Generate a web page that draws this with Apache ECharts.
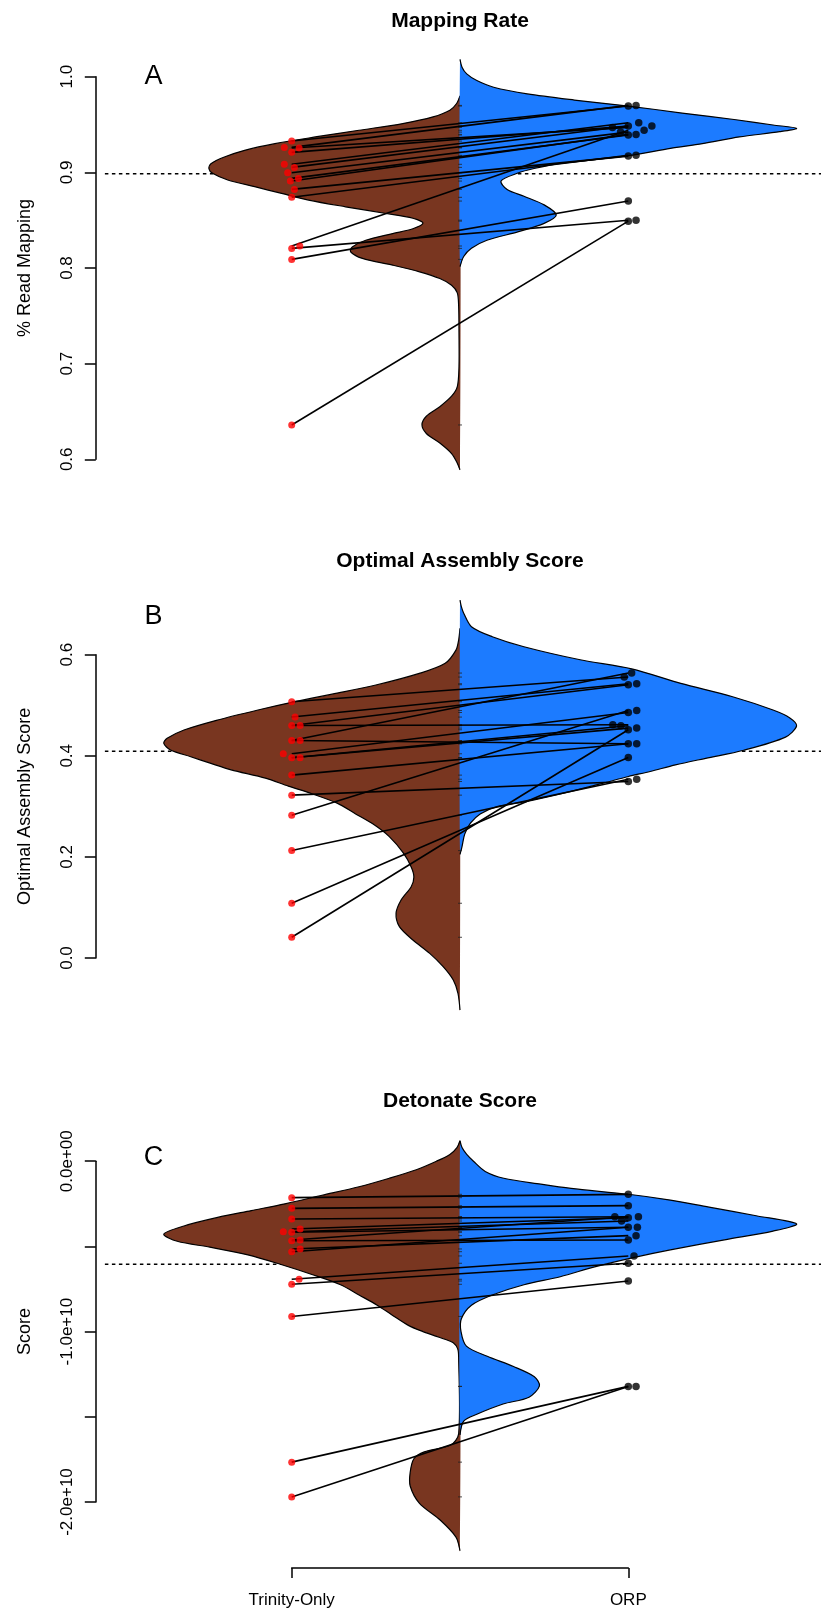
<!DOCTYPE html>
<html>
<head>
<meta charset="utf-8">
<script src="https://cdn.jsdelivr.net/npm/echarts@6/dist/echarts.min.js"></script>
<style>
  html, body { margin: 0; padding: 0; background: #fff; }
  #main { width: 821px; height: 1615px; }
</style>
</head>
<body>
<div id="main"></div>
<script>
var FONT = '"Liberation Sans", Arial, Helvetica, sans-serif';
var BROWN = '#793620';
var BLUE = '#1c7bff';

var panelTitles = ['Mapping Rate', 'Optimal Assembly Score', 'Detonate Score'];
var panelLetters = ['A', 'B', 'C'];
var axisNames = ['% Read Mapping', 'Optimal Assembly Score', 'Score'];
var groupNames = ['Trinity-Only', 'ORP'];

// ---- A: mapping rate (pairs: trinityA[i] -> orpA[i])
var trinityA = [0.9327, 0.9261, 0.9255, 0.9209, 0.9084, 0.9052, 0.8996, 0.8937, 0.8909, 0.8822, 0.8739, 0.8230, 0.8205, 0.8090, 0.6359];
var orpA     = [0.9693, 0.9700, 0.9470, 0.9484, 0.9519, 0.9484, 0.9421, 0.9390, 0.9397, 0.9170, 0.9178, 0.9440, 0.8500, 0.8700, 0.8490];
var trinityJitterA = [0, -0.022, 0.022, 0, -0.022, 0.008, -0.012, 0.020, -0.004, 0.008, 0, 0.024, 0, 0, 0];
var orpJitterA     = [0, 0.023, -0.047, 0, 0.031, 0.070, -0.023, 0, 0.023, 0, 0.023, 0.047, 0.023, 0, 0];
var overallMeanA = 0.8985;
// bean outlines: [value, half width]
var trinityDensityA = [[0.980,0],[0.972,0.01],[0.965,0.03],[0.958,0.08],[0.951,0.17],[0.944,0.30],[0.937,0.43],[0.930,0.55],
  [0.923,0.64],[0.916,0.70],[0.909,0.74],[0.904,0.746],[0.899,0.735],[0.892,0.69],[0.885,0.61],[0.878,0.53],[0.871,0.45],
  [0.864,0.34],[0.857,0.22],[0.852,0.14],[0.847,0.11],[0.841,0.14],[0.836,0.20],[0.829,0.28],[0.822,0.32],[0.817,0.325],
  [0.810,0.29],[0.803,0.20],[0.796,0.12],[0.789,0.06],[0.782,0.025],[0.774,0.008],[0.760,0.004],[0.732,0.003],[0.697,0.003],
  [0.676,0.008],[0.666,0.025],[0.655,0.06],[0.645,0.10],[0.636,0.113],[0.627,0.10],[0.617,0.06],[0.606,0.025],[0.596,0.008],[0.589,0]];
var orpDensityA = [[1.018,0],[1.010,0.006],[1.003,0.02],[0.996,0.05],[0.989,0.10],[0.982,0.20],[0.9756,0.34],[0.9693,0.50],
  [0.962,0.66],[0.955,0.82],[0.9495,0.93],[0.946,1.0],[0.9425,0.95],[0.937,0.83],[0.930,0.72],[0.925,0.625],[0.9174,0.50],
  [0.9094,0.30],[0.904,0.22],[0.899,0.17],[0.891,0.122],[0.882,0.14],[0.875,0.19],[0.866,0.25],[0.8554,0.286],[0.8467,0.25],
  [0.838,0.174],[0.829,0.08],[0.8206,0.034],[0.812,0.011],[0.8014,0]];

// ---- B: optimal assembly score
var trinityB = [0.5070, 0.4766, 0.4600, 0.4600, 0.4303, 0.4303, 0.4040, 0.3960, 0.3960, 0.3618, 0.3222, 0.2826, 0.2125, 0.1083, 0.0410];
var orpB     = [0.5558, 0.5426, 0.4614, 0.5406, 0.5637, 0.4238, 0.4857, 0.4594, 0.4548, 0.4238, 0.3491, 0.4897, 0.3537, 0.3966, 0.4515];
var trinityJitterB = [0, 0.010, 0, 0.025, 0, 0.025, -0.025, 0, 0.025, 0, 0, 0, 0, 0, 0];
var orpJitterB     = [-0.012, 0.025, -0.046, 0, 0.010, 0, 0, -0.022, 0.025, 0.025, 0, 0.025, 0.025, 0, 0];
var overallMeanB = 0.409;
var trinityDensityB = [[0.652,0],[0.629,0.004],[0.609,0.012],[0.583,0.044],[0.563,0.121],[0.540,0.25],[0.522,0.38],[0.5057,0.50],
  [0.4906,0.60],[0.4708,0.72],[0.451,0.82],[0.4345,0.87],[0.4246,0.88],[0.4114,0.86],[0.3982,0.80],[0.385,0.74],[0.3723,0.68],
  [0.3558,0.578],[0.340,0.51],[0.325,0.44],[0.3063,0.365],[0.285,0.31],[0.2634,0.255],[0.240,0.21],[0.2073,0.168],[0.180,0.145],
  [0.160,0.137],[0.1411,0.145],[0.1147,0.175],[0.0884,0.19],[0.062,0.18],[0.0356,0.14],[0.0092,0.09],[-0.0171,0.05],
  [-0.0435,0.02],[-0.0699,0.006],[-0.103,0]];
var orpDensityB = [[0.708,0],[0.695,0.004],[0.682,0.011],[0.6554,0.034],[0.6356,0.096],[0.6158,0.19],[0.590,0.357],[0.572,0.51],
  [0.5433,0.656],[0.5169,0.81],[0.4906,0.93],[0.475,0.98],[0.459,1.0],[0.437,0.967],[0.411,0.843],[0.395,0.73],[0.382,0.64],
  [0.369,0.565],[0.359,0.50],[0.345,0.42],[0.326,0.308],[0.310,0.20],[0.2996,0.11],[0.285,0.06],[0.2667,0.031],[0.245,0.014],
  [0.2204,0.006],[0.205,0]];

// ---- C: detonate score
var trinityC = [-0.214e10, -0.2767e10, -0.339e10, -0.398e10, -0.414e10, -0.417e10, -0.4624e10, -0.4665e10, -0.515e10, -0.531e10,
  -0.693e10, -0.7224e10, -0.911e10, -1.766e10, -1.970e10];
var orpC = [-0.1944e10, -0.261e10, -0.3257e10, -0.3316e10, -0.351e10, -0.388e10, -0.3257e10, -0.4624e10, -0.437e10, -0.388e10,
  -0.556e10, -0.599e10, -0.703e10, -1.3216e10, -1.3216e10];
var trinityJitterC = [0, 0, 0, 0.025, -0.025, 0, 0.025, 0, 0.025, 0, 0.022, 0, 0, 0, 0];
var orpJitterC     = [0, 0, -0.040, 0, -0.020, 0, 0.030, 0, 0.023, 0.027, 0.017, 0, 0, 0, 0.023];
var overallMeanC = -0.6045e10;
var trinityDensityC = [[0.12e10,0],[0.08e10,0.009],[0.04e10,0.03],[0,0.07],[-0.05e10,0.13],[-0.10e10,0.21],[-0.15e10,0.30],
  [-0.20e10,0.41],[-0.25e10,0.52],[-0.29e10,0.62],[-0.33e10,0.72],[-0.38e10,0.82],[-0.428e10,0.88],
  [-0.47e10,0.84],[-0.5045e10,0.743],[-0.55e10,0.63],[-0.605e10,0.534],[-0.665e10,0.44],[-0.7247e10,0.355],[-0.785e10,0.30],
  [-0.8448e10,0.246],[-0.905e10,0.20],[-0.965e10,0.152],[-1.0e10,0.11],[-1.025e10,0.075],[-1.045e10,0.045],[-1.065e10,0.02],
  [-1.10e10,0.007],[-1.15e10,0.004],[-1.60e10,0.004],[-1.666e10,0.028],[-1.706e10,0.106],[-1.746e10,0.137],[-1.826e10,0.148],
  [-1.906e10,0.148],[-2.006e10,0.121],[-2.106e10,0.059],[-2.206e10,0.012],[-2.286e10,0]];
var orpDensityC = [[0.12e10,0],[0.08e10,0.006],[0.04e10,0.02],[0,0.04],[-0.06e10,0.075],[-0.10e10,0.13],[-0.135e10,0.24],
  [-0.16e10,0.33],[-0.194e10,0.50],[-0.228e10,0.625],[-0.27e10,0.74],[-0.32e10,0.88],[-0.368e10,1.0],[-0.41e10,0.93],
  [-0.46e10,0.79],[-0.52e10,0.625],[-0.564e10,0.518],[-0.62e10,0.40],[-0.678e10,0.298],[-0.725e10,0.19],[-0.785e10,0.096],
  [-0.845e10,0.034],[-0.925e10,0.004],[-1.0e10,0.003],[-1.085e10,0.019],[-1.145e10,0.081],[-1.205e10,0.159],[-1.265e10,0.221],
  [-1.319e10,0.236],[-1.385e10,0.205],[-1.425e10,0.128],[-1.485e10,0.05],[-1.525e10,0.011],[-1.606e10,0]];

var yTicks = [
  { min: 0.6, max: 1.0, interval: 0.1 },
  { min: 0.0, max: 0.6, interval: 0.2 },
  { min: -2e10, max: 0, interval: 5e9 }
];

var panels = [
  { t: trinityA, o: orpA, tj: trinityJitterA, oj: orpJitterA, mean: overallMeanA, td: trinityDensityA, od: orpDensityA },
  { t: trinityB, o: orpB, tj: trinityJitterB, oj: orpJitterB, mean: overallMeanB, td: trinityDensityB, od: orpDensityB },
  { t: trinityC, o: orpC, tj: trinityJitterC, oj: orpJitterC, mean: overallMeanC, td: trinityDensityC, od: orpDensityC }
];

// pixel layout of each panel (tick range of the y axis)
var boxes = [
  { top: 76.7, height: 382.6, titleY: 21.5, letterY: 76.5 },
  { top: 654.7, height: 303.3, titleY: 561, letterY: 616.7 },
  { top: 1161.2, height: 340.8, titleY: 1101, letterY: 1158 }
];
var CENTER = 1.5;
var meanLineX = [0.445, 2.6];

function sciLabel(v) {
  if (v === 0) return '0.0e+00';
  var e = Math.round(Math.log10(Math.abs(v)));
  return (v / Math.pow(10, e)).toFixed(1) + 'e+' + e;
}

function beanSeries(k, dens, side, color) {
  return {
    type: 'custom', xAxisIndex: k, yAxisIndex: k, silent: true, z: 2, clip: false,
    data: [[CENTER, dens[0][0]]],
    renderItem: function (params, api) {
      var pts = dens.map(function (d) { return api.coord([CENTER + side * d[1], d[0]]); });
      return {
        type: 'group',
        children: [
          { type: 'polygon', shape: { points: pts, smooth: 0.3 }, style: { fill: color } },
          { type: 'polyline', shape: { points: pts, smooth: 0.3 }, style: { fill: null, stroke: '#000', lineWidth: 1.2 } }
        ]
      };
    }
  };
}

function meanSeries(k, mean) {
  return {
    type: 'custom', xAxisIndex: k, yAxisIndex: k, silent: true, z: 1, clip: false,
    data: [[meanLineX[0], mean]],
    renderItem: function (params, api) {
      var a = api.coord([meanLineX[0], mean]);
      var b = api.coord([meanLineX[1], mean]);
      return {
        type: 'line',
        shape: { x1: a[0], y1: a[1], x2: b[0], y2: b[1] },
        style: { stroke: '#000', lineWidth: 1.6, lineDash: [3.5, 3.5] }
      };
    }
  };
}

var grids = [], xAxes = [], yAxes = [], series = [], graphics = [];

panels.forEach(function (p, k) {
  var b = boxes[k];
  grids.push({ left: 291.7, width: 336.6, top: b.top, height: b.height });

  xAxes.push({
    type: 'value', gridIndex: k, min: 1, max: 2, interval: 1, position: 'bottom',
    show: k === 2, offset: 66,
    axisLine: { onZero: false, lineStyle: { color: '#000', width: 1.5 } },
    axisTick: { length: 10, lineStyle: { color: '#000', width: 1.5 } },
    axisLabel: {
      margin: 24, fontSize: 17, fontFamily: FONT, color: '#000',
      formatter: function (v) { return v === 1 ? groupNames[0] : (v === 2 ? groupNames[1] : ''); }
    },
    splitLine: { show: false }
  });

  yAxes.push({
    type: 'value', gridIndex: k, min: yTicks[k].min, max: yTicks[k].max, interval: yTicks[k].interval,
    offset: 195.9,
    name: axisNames[k], nameLocation: 'middle', nameGap: 62,
    nameTextStyle: { fontSize: 18, fontFamily: FONT, color: '#000' },
    axisLine: { show: true, onZero: false, lineStyle: { color: '#000', width: 1.5 } },
    axisTick: { show: true, length: 11, lineStyle: { color: '#000', width: 1.5 } },
    axisLabel: {
      rotate: 90, margin: 20, fontSize: 17, fontFamily: FONT, color: '#000',
      formatter: function (v) {
        if (k === 2) return (Math.abs(v) % 1e10 === 0) ? sciLabel(v) : '';
        return v.toFixed(1);
      }
    },
    splitLine: { show: false }
  });

  // overall mean (behind the beans)
  series.push(meanSeries(k, p.mean));

  series.push(beanSeries(k, p.td, -1, BROWN));
  series.push(beanSeries(k, p.od, 1, BLUE));

  // bean lines at the centre
  series.push({
    type: 'scatter', xAxisIndex: k, yAxisIndex: k, z: 3, silent: true, clip: false,
    symbol: 'rect', symbolSize: [4, 1],
    itemStyle: { color: '#222' },
    data: p.t.concat(p.o).map(function (v) { return [CENTER, v]; })
  });

  series.push({
    type: 'lines', coordinateSystem: 'cartesian2d', xAxisIndex: k, yAxisIndex: k, z: 4, silent: true,
    lineStyle: { color: '#000', width: 1.6, opacity: 1 },
    data: p.t.map(function (v, i) { return { coords: [[1, v], [2, p.o[i]]] }; })
  });

  series.push({
    type: 'scatter', xAxisIndex: k, yAxisIndex: k, z: 5, silent: true, clip: false,
    symbol: 'circle', symbolSize: 7, itemStyle: { color: '#ff0000' },
    data: p.t.map(function (v, i) { return [1 + p.tj[i], v]; })
  });
  series.push({
    type: 'scatter', xAxisIndex: k, yAxisIndex: k, z: 5, silent: true, clip: false,
    symbol: 'circle', symbolSize: 7.5, itemStyle: { color: '#000' },
    data: p.o.map(function (v, i) { return [2 + p.oj[i], v]; })
  });

  graphics.push({
    type: 'text', x: 460, y: b.titleY, z: 10,
    style: { text: panelTitles[k], font: 'bold 21px ' + FONT, fill: '#000', align: 'center', verticalAlign: 'middle' }
  });
  graphics.push({
    type: 'text', x: 153.4, y: b.letterY, z: 10,
    style: { text: panelLetters[k], font: '27px ' + FONT, fill: '#000', align: 'center', verticalAlign: 'middle' }
  });
});

var chart = echarts.init(document.getElementById('main'), null, { renderer: 'canvas' });
chart.setOption({
  animation: false,
  backgroundColor: '#fff',
  grid: grids,
  xAxis: xAxes,
  yAxis: yAxes,
  series: series,
  graphic: graphics
});
</script>
</body>
</html>
